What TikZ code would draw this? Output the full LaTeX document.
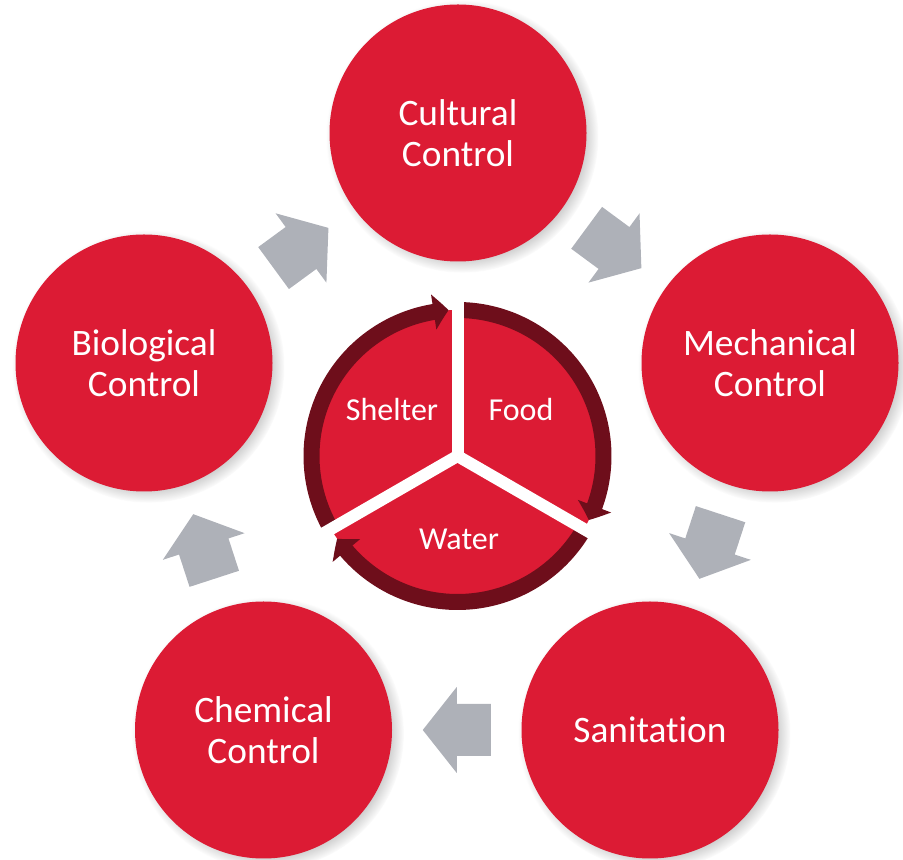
\documentclass[tikz,border=0pt]{standalone}
\usepackage{fontspec}
\setmainfont{Carlito}[Ligatures=NoCommon]
\usetikzlibrary{calc,shadows,arrows.meta,bending}
\definecolor{cred}{HTML}{DC1B34}
\definecolor{cdark}{HTML}{6E0E1B}
\definecolor{cgray}{HTML}{AEB1B8}
\tikzset{
  bigcirc/.style={circle, fill=cred, minimum size=192.75pt, inner sep=0pt,
    text=white, align=center, font=\fontsize{28}{30.75}\selectfont,
    circular drop shadow={shadow xshift=3pt, shadow yshift=-2.5pt, shadow scale=1.06, opacity=0.55}},
  pielabel/.style={text=white, font=\fontsize{24}{26}\selectfont, anchor=base, inner sep=0pt},
  ringarc/.style={draw=cdark, line width=12pt, -{Triangle[length=11.25pt, width=26pt, bend]}},
  gapline/.style={draw=white, line width=9pt},
  blockarrow/.pic={\fill[cgray] (-34,-26) -- (0,-26) -- (0,-43) -- (34,0) -- (0,43) -- (0,26) -- (-34,26) -- cycle;}
}
\begin{document}
\begin{tikzpicture}[x=0.75pt, y=0.75pt]
\useasboundingbox (0,0) rectangle (903,860);
\node[bigcirc] (cult) at (458,727) {Cultural\\Control};
\node[bigcirc] (mech) at (770,497) {Mechanical\\Control};
\node[bigcirc] (san)  at (650,130) {Sanitation};
\node[bigcirc] (chem) at (263.5,130) {Chemical\\Control};
\node[bigcirc] (bio)  at (144,497) {Biological\\Control};
\foreach \a/\b in {bio/cult,cult/mech,mech/san,san/chem,chem/bio}{
  \path let \p1=($(\b)-(\a)$), \n1={atan2(\y1,\x1)} in
    pic[rotate=\n1] at ($(\a)!0.5!(\b)$) {blockarrow};
}
\coordinate (pc) at (457.5,404);
\fill[cred] (pc) circle[radius=146];
\draw[ringarc] ([shift={(208:146)}]pc) arc[start angle=208, end angle=93.5, radius=146];
\draw[ringarc] ([shift={(88:146)}]pc) arc[start angle=88, end angle=-26, radius=146];
\draw[ringarc] ([shift={(-32:146)}]pc) arc[start angle=-32, end angle=-145.5, radius=146];
\draw[gapline] (pc) -- ++(90:162);
\draw[gapline] (pc) -- ++(210:162);
\draw[gapline] (pc) -- ++(330:162);
\node[pielabel] (shelter) at (392,439) {Shelter};
\node[pielabel] (food) at (521,439) {Food};
\node[pielabel] (water) at (459,310) {Water};
\end{tikzpicture}
\end{document}
